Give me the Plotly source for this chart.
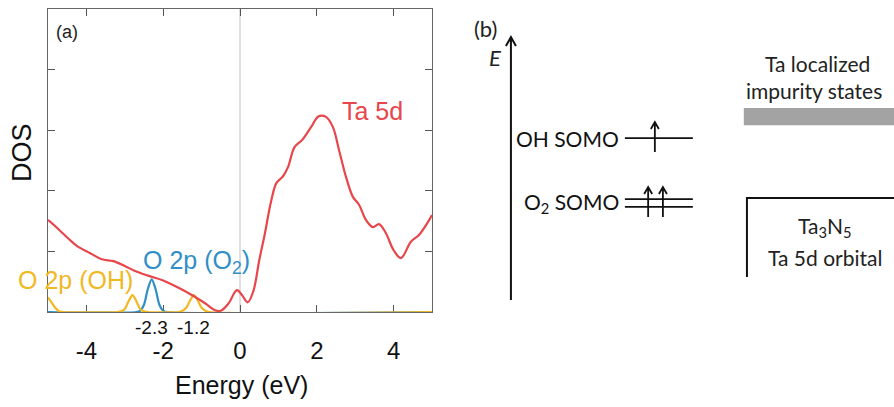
import plotly.graph_objects as go

# ---------------- panel (a): density of states ----------------
# Ta 5d projected DOS
ta5d_energy = [-5.0, -4.7, -4.45, -4.2, -3.9, -3.6, -3.3, -3.0, -2.75, -2.4, -2.0, -1.6,
               -1.2, -0.9, -0.65, -0.5, -0.3, -0.08, 0.05, 0.2, 0.35, 0.5, 0.65, 0.8,
               0.95, 1.12, 1.25, 1.42, 1.62, 1.85, 2.05, 2.24, 2.42, 2.58, 2.76, 2.94,
               3.1, 3.28, 3.46, 3.62, 3.8, 4.0, 4.19, 4.45, 4.66, 4.9, 5.0]
ta5d_dos = [1.52, 1.35, 1.2, 1.07, 0.97, 0.87, 0.84, 0.76, 0.68, 0.6, 0.52, 0.4,
            0.26, 0.14, 0.03, 0.02, 0.14, 0.36, 0.28, 0.16, 0.35, 0.85, 1.3, 1.8,
            2.13, 2.24, 2.39, 2.72, 2.84, 3.05, 3.23, 3.22, 3.05, 2.67, 2.23, 1.9,
            1.77, 1.52, 1.40, 1.45, 1.30, 1.02, 0.89, 1.16, 1.27, 1.49, 1.6]

# O 2p states of the adsorbed O2 molecule
o2_energy = [-5.0, -2.7, -2.6, -2.5, -2.4, -2.3, -2.2, -2.1, -2.0, -1.9, 5.0]
o2_dos = [0.0, 0.0, 0.02, 0.12, 0.38, 0.54, 0.38, 0.12, 0.02, 0.0, 0.0]

# O 2p states of the adsorbed OH group
oh_energy = [-5.0, -4.9, -4.8, -4.7, -4.6, -3.2, -3.1, -3.0, -2.9, -2.8, -2.7, -2.6,
             -2.5, -2.4, -1.6, -1.5, -1.4, -1.3, -1.2, -1.1, -1.0, -0.9, -0.8, 5.0]
oh_dos = [0.24, 0.15, 0.06, 0.01, 0.0, 0.0, 0.01, 0.05, 0.18, 0.28, 0.18, 0.05,
          0.01, 0.0, 0.0, 0.02, 0.07, 0.19, 0.28, 0.19, 0.07, 0.02, 0.0, 0.0]

# state positions marked under the axis
marked_energy = [-2.3, -1.2]
marked_text = ["-2.3", "-1.2"]

energy_ticks = [-4, -2, 0, 2, 4]
energy_tick_text = ["-4", "-2", "0", "2", "4"]
dos_ticks = [1, 2, 3, 4]

# ---------------- panel (b): level scheme ----------------
# schematic energies (arbitrary units, E axis runs from 0 to 10)
e_axis = [0.0, 10.0]
level_names = ["OH SOMO", "O<sub>2</sub> SOMO"]
level_lines = [[6.16], [3.84, 3.54]]
level_spins = [[0.465], [0.450, 0.483]]
spin_span = [[5.63, 6.77], [3.16, 4.30]]
impurity_band = [6.65, 7.30]
ta5d_band = [0.87, 3.88]

RED = "#e8464b"
BLUE = "#2f8fc6"
YELLOW = "#f1b823"
SANS = "Liberation Sans, Arial, sans-serif"
CAL = "Lato, Carlito, Calibri, sans-serif"

W, H = 894, 407
X0, X1 = 48, 432      # plot area of panel (a), pixels
Y0, Y1 = 9, 312

fig = go.Figure()
fig.add_trace(go.Scatter(x=o2_energy, y=o2_dos, mode="lines",
                         line=dict(color=BLUE, width=2.2, shape="spline", smoothing=0.8),
                         hoverinfo="skip", showlegend=False))
fig.add_trace(go.Scatter(x=oh_energy, y=oh_dos, mode="lines",
                         line=dict(color=YELLOW, width=2.2, shape="spline", smoothing=0.8),
                         hoverinfo="skip", showlegend=False))
fig.add_trace(go.Scatter(x=ta5d_energy, y=ta5d_dos, mode="lines",
                         line=dict(color=RED, width=2.2, shape="spline", smoothing=1.0),
                         hoverinfo="skip", showlegend=False))

# invisible trace so the scheme axes exist
fig.add_trace(go.Scatter(x=[0.5], y=[5], xaxis="x2", yaxis="y2", mode="markers",
                         marker=dict(opacity=0), hoverinfo="skip", showlegend=False))

axis_style = dict(showgrid=False, zeroline=False, ticks="inside", ticklen=7,
                  tickwidth=1.2, tickcolor="#555", showline=True, linecolor="#666",
                  linewidth=1.3, mirror="ticks", layer="below traces")

fig.update_layout(
    width=W, height=H, margin=dict(l=0, r=0, t=0, b=0),
    paper_bgcolor="white", plot_bgcolor="white",
    xaxis=dict(domain=[X0 / W, X1 / W], range=[-5, 5], tickvals=energy_ticks,
               ticktext=energy_tick_text, tickfont=dict(family=SANS, size=24, color="#111"),
               ticklabelstandoff=17, **axis_style),
    yaxis=dict(domain=[(H - Y1) / H, (H - Y0) / H], range=[0, 5], tickvals=dos_ticks,
               showticklabels=False, **axis_style),
    xaxis2=dict(domain=[0.5, 1.0], range=[0, 1], visible=False, anchor="y2"),
    yaxis2=dict(domain=[0, 1], range=[-4.07, 11.41], visible=False, anchor="x2"),
)

shapes = []
# Fermi level marker
shapes.append(dict(type="line", xref="x", yref="y", x0=0, x1=0, y0=0, y1=5,
                   line=dict(color="#d4d4d4", width=1.5), layer="below"))

ann = []
ann.append(dict(xref="x", yref="y", x=-4.5, y=4.62, text="(a)", showarrow=False,
                xanchor="center", yanchor="middle",
                font=dict(family=SANS, size=18, color="#222")))
ann.append(dict(xref="x", yref="y", x=3.44, y=3.32, text="Ta 5d", showarrow=False,
                xanchor="center", yanchor="middle",
                font=dict(family=SANS, size=25, color=RED)))
ann.append(dict(xref="x", yref="y", x=-1.13, y=0.83, text="O 2p (O<sub>2</sub>)",
                showarrow=False, xanchor="center", yanchor="middle",
                font=dict(family=SANS, size=25, color=BLUE)))
ann.append(dict(xref="x", yref="y", x=-4.28, y=0.53, text="O 2p (OH)",
                showarrow=False, xanchor="center", yanchor="middle",
                font=dict(family=SANS, size=25, color=YELLOW)))
for e, t in zip(marked_energy, marked_text):
    ann.append(dict(xref="x", yref="paper", x=e, y=(H - 327) / H, text=t, showarrow=False,
                    xanchor="center", yanchor="middle",
                    font=dict(family=SANS, size=19, color="#111")))
ann.append(dict(xref="paper", yref="paper", x=22 / W, y=(H - 153) / H, text="DOS",
                textangle=-90, showarrow=False, xanchor="center", yanchor="middle",
                font=dict(family=SANS, size=27, color="#111")))
ann.append(dict(xref="paper", yref="paper", x=242 / W, y=(H - 385) / H, text="Energy (eV)",
                showarrow=False, xanchor="center", yanchor="middle",
                font=dict(family=SANS, size=25, color="#111")))

# ---- scheme (b) ----
px_x = 1 / 447.0          # one pixel in scheme x units
px_e = 1 / 26.3           # one pixel in scheme energy units
axis_x = 0.143
lvl_x0, lvl_x1 = 0.398, 0.550
line_b = dict(color="#111", width=2)


def up_arrow(x, e0, e1, hw, hh, width):
    return dict(type="path", xref="x2", yref="y2",
                path=(f"M {x},{e0} L {x},{e1} "
                      f"M {x - hw},{e1 - hh} L {x},{e1} L {x + hw},{e1 - hh}"),
                line=dict(color="#111", width=width))


shapes.append(up_arrow(axis_x, e_axis[0], e_axis[1], 5 * px_x, 9 * px_e, 2))
for name, lines, spins, span in zip(level_names, level_lines, level_spins, spin_span):
    for e in lines:
        shapes.append(dict(type="line", xref="x2", yref="y2", x0=lvl_x0, x1=lvl_x1,
                           y0=e, y1=e, line=dict(color="#111", width=1.8)))
    for sx in spins:
        shapes.append(up_arrow(sx, span[0], span[1], 4 * px_x, 7 * px_e, 1.8))
    mid = sum(lines) / len(lines)
    ann.append(dict(xref="x2", yref="y2", x=lvl_x0 - 4 * px_x, y=mid, text=name,
                    xanchor="right", yanchor="middle", showarrow=False,
                    font=dict(family=CAL, size=21, color="#111")))

shapes.append(dict(type="rect", xref="x2", yref="y2", x0=0.664, x1=1.02,
                   y0=impurity_band[0], y1=impurity_band[1],
                   fillcolor="#a3a3a3", line=dict(width=0)))
shapes.append(dict(type="path", xref="x2", yref="y2",
                   path=f"M 0.671,{ta5d_band[0]} L 0.671,{ta5d_band[1]} L 1.02,{ta5d_band[1]}",
                   line=line_b))

scheme_text = [
    (0.085, 10.34, "(b)", 22),
    (0.107, 9.24, "<i>E</i>", 22),
    (0.828, 9.01, "Ta localized", 21),
    (0.82, 7.98, "impurity states", 21),
    (0.846, 2.78, "Ta<sub>3</sub>N<sub>5</sub>", 21),
    (0.846, 1.63, "Ta 5d orbital", 21),
]
for x, y, t, s in scheme_text:
    ann.append(dict(xref="x2", yref="y2", x=x, y=y, text=t, showarrow=False,
                    xanchor="center", yanchor="middle",
                    font=dict(family=CAL, size=s, color="#222")))

fig.update_layout(shapes=shapes, annotations=ann)
fig.write_html("out.html")
